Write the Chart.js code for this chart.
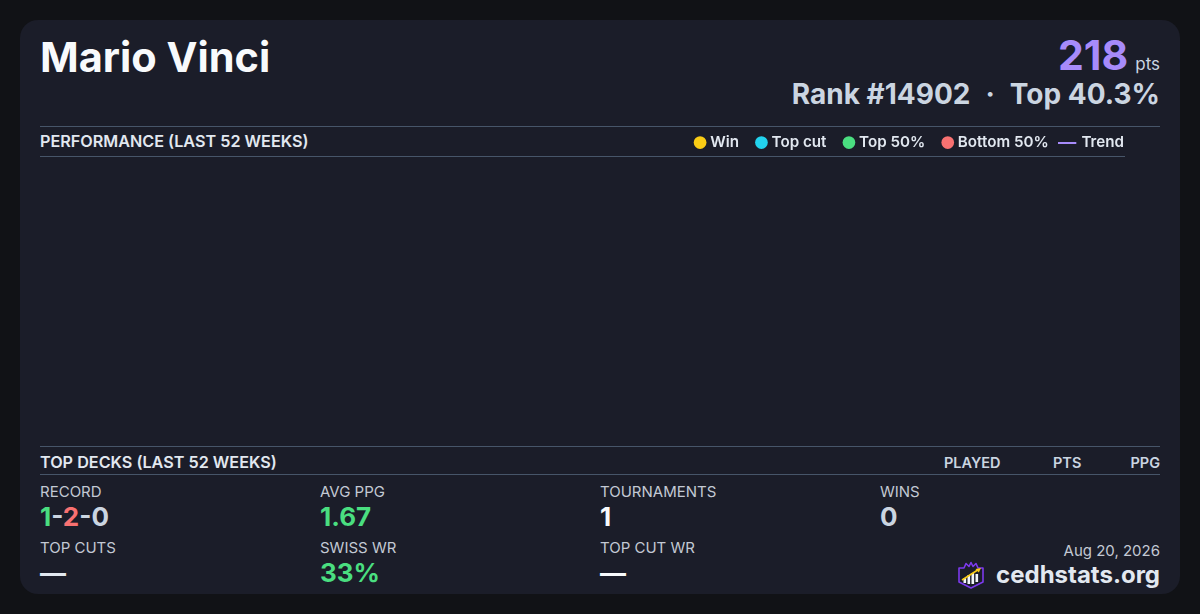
<!DOCTYPE html>
<html>
<head>
<meta charset="utf-8">
<title>Mario Vinci</title>
<script src="https://cdn.jsdelivr.net/npm/chart.js@4.4.1/dist/chart.umd.min.js"></script>
<style>
  html, body { margin: 0; padding: 0; }
  body { width: 1200px; height: 614px; background: #111216; font-family: Inter, sans-serif; position: relative; overflow: hidden; }
  .card { position: absolute; left: 20px; top: 20px; width: 1160px; height: 574px; background: #1b1d29; border-radius: 18px; }
  .abs { position: absolute; line-height: 1; white-space: nowrap; }
  .rule { position: absolute; height: 1px; background: #475569; }
  .lbl { font-size: 15px; color: #c3c9d4; }
  .val { font-size: 26px; font-weight: 700; }
  .hdr { font-size: 16.2px; font-weight: 600; color: #e2e8f0; }
  .col { font-size: 14.5px; font-weight: 600; color: #cbd5e1; }
  #chartBox { position: absolute; left: 40px; top: 115px; width: 1104px; height: 330px; }
</style>
</head>
<body>
<div class="card"></div>

<div class="abs" style="left:40px; top:37px; font-size:41.5px; font-weight:700; color:#f8fafc;">Mario Vinci</div>

<div class="abs" style="right:40px; top:35px; display:flex; align-items:baseline;">
  <span style="font-size:41px; font-weight:700; color:#a78bfa;">218</span>
  <span style="font-size:17px; color:#cbd5e1; margin-left:7px;">pts</span>
</div>
<div class="abs" style="right:40px; top:80px; font-size:28px; font-weight:700; color:#cbd5e1;">Rank #14902<span style="margin:0 15px;">·</span>Top 40.3%</div>

<div class="rule" style="left:40px; top:126px; width:1120px;"></div>
<div class="abs hdr" style="left:40px; top:133px;">PERFORMANCE (LAST 52 WEEKS)</div>
<div class="rule" style="left:40px; top:156px; width:1085px;"></div>

<div id="chartBox"><canvas id="perf"></canvas></div>

<div class="rule" style="left:40px; top:446px; width:1120px;"></div>
<div class="abs hdr" style="left:40px; top:454px;">TOP DECKS (LAST 52 WEEKS)</div>
<div class="abs col" style="left:944px; top:455.5px;">PLAYED</div>
<div class="abs col" style="left:1053px; top:455.5px;">PTS</div>
<div class="abs col" style="right:40px; top:455.5px;">PPG</div>
<div class="rule" style="left:40px; top:474px; width:1120px;"></div>

<div class="abs lbl" style="left:40px; top:484px;">RECORD</div>
<div class="abs val" style="left:40px; top:504px;"><span style="color:#4ade80">1</span><span style="color:#cbd5e1">-</span><span style="color:#f87171">2</span><span style="color:#cbd5e1">-0</span></div>
<div class="abs lbl" style="left:320px; top:484px;">AVG PPG</div>
<div class="abs val" style="left:320px; top:504px; color:#4ade80;">1.67</div>
<div class="abs lbl" style="left:600px; top:484px;">TOURNAMENTS</div>
<div class="abs val" style="left:600px; top:504px; color:#f8fafc;">1</div>
<div class="abs lbl" style="left:880px; top:484px;">WINS</div>
<div class="abs val" style="left:880px; top:504px; color:#cbd5e1;">0</div>

<div class="abs lbl" style="left:40px; top:540px;">TOP CUTS</div>
<div class="abs val" style="left:40px; top:560px; color:#e2e8f0;">—</div>
<div class="abs lbl" style="left:320px; top:540px;">SWISS WR</div>
<div class="abs val" style="left:320px; top:560px; color:#4ade80;">33%</div>
<div class="abs lbl" style="left:600px; top:540px;">TOP CUT WR</div>
<div class="abs val" style="left:600px; top:560px; color:#f8fafc;">—</div>

<div class="abs lbl" style="right:40px; top:542.5px;">Aug 20, 2026</div>
<div class="abs" style="right:40px; top:561px; display:flex; align-items:center;">
  <svg width="28" height="28" viewBox="0 0 28 28" style="margin-right:11px;">
    <path d="M2 7 L7 7 L9 2.5 L12 5.5 L14 1.5 L16 5.5 L19 2.5 L21 7 L26 7 L26 21 L14 27 L2 21 Z" fill="#1b1d29" stroke="#7c3aed" stroke-width="1.6" stroke-linejoin="round"/>
    <rect x="6.5" y="17" width="2.6" height="5" fill="#f1f5f9"/>
    <rect x="10.5" y="14" width="2.6" height="9" fill="#f1f5f9"/>
    <rect x="14.5" y="12" width="2.6" height="11" fill="#f1f5f9"/>
    <rect x="18.5" y="13" width="2.6" height="8" fill="#f1f5f9"/>
    <line x1="5" y1="19" x2="21.5" y2="8.5" stroke="#facc15" stroke-width="1.6"/>
    <path d="M24 7 L18.5 8 L21.8 11.6 Z" fill="#facc15"/>
  </svg>
  <span style="font-size:24px; font-weight:700; color:#e2e8f0;">cedhstats.org</span>
</div>

<script>
// no results in the last 52 weeks, so every series is empty
const weekLabels = [];
const winPoints = [];
const topCutPoints = [];
const top50Points = [];
const bottom50Points = [];
const trendPoints = [];

const seriesNames = ['Win', 'Top cut', 'Top 50%', 'Bottom 50%', 'Trend'];
const seriesColors = ['#facc15', '#22d3ee', '#4ade80', '#f87171', '#a78bfa'];

Chart.defaults.font.family = 'Inter, sans-serif';

// short purple bar for the trend line in the legend, sitting left of the label
const trendMark = document.createElement('canvas');
trendMark.width = 26;
trendMark.height = 2;
const tctx = trendMark.getContext('2d');
tctx.fillStyle = seriesColors[4];
tctx.fillRect(0, 0, 18, 2);

function pointSet(i, data) {
	return {
		label: seriesNames[i],
		data: data,
		showLine: false,
		backgroundColor: seriesColors[i],
		borderColor: seriesColors[i],
		pointRadius: 5
	};
}

const ctx = document.getElementById('perf');
const perfChart = new Chart(ctx, {
	type: 'line',
	data: {
		labels: weekLabels,
		datasets: [
			pointSet(0, winPoints),
			pointSet(1, topCutPoints),
			pointSet(2, top50Points),
			pointSet(3, bottom50Points),
			{
				label: seriesNames[4],
				data: trendPoints,
				borderColor: seriesColors[4],
				borderWidth: 2,
				pointRadius: 0
			}
		]
	},
	options: {
		responsive: true,
		maintainAspectRatio: false,
		animation: false,
		layout: { padding: 0 },
		scales: {
			x: { display: false },
			y: { display: false }
		},
		plugins: {
			tooltip: { enabled: false },
			legend: {
				position: 'top',
				align: 'end',
				labels: {
					usePointStyle: true,
					boxWidth: 5,
					boxHeight: 9,
					padding: 20,
					color: '#e2e8f0',
					font: { size: 15.2, weight: '600' },
					generateLabels: function (chart) {
						return chart.data.datasets.map(function (ds, i) {
							return {
								text: ds.label,
								fillStyle: seriesColors[i],
								strokeStyle: seriesColors[i],
								lineWidth: 0,
								pointStyle: i === 4 ? trendMark : 'circle',
								fontColor: '#e2e8f0',
								datasetIndex: i,
								hidden: false
							};
						});
					}
				}
			}
		}
	}
});
</script>
</body>
</html>
